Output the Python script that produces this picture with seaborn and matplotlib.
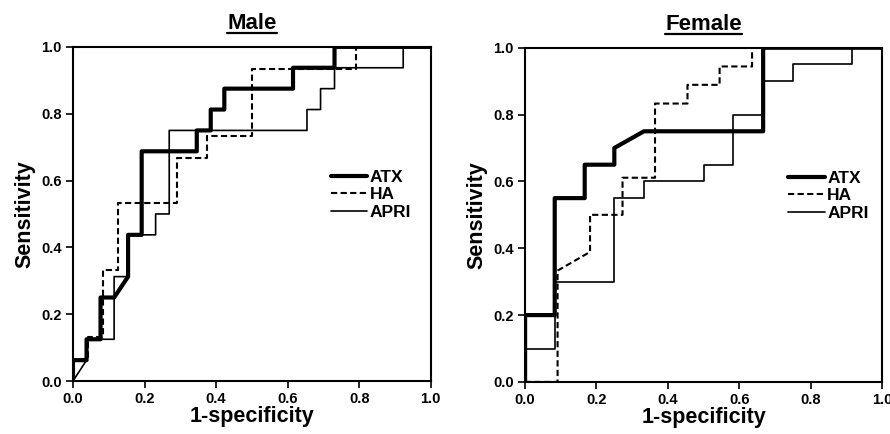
import matplotlib
matplotlib.use("Agg")
import matplotlib.pyplot as plt
from matplotlib.lines import Line2D
import pandas as pd
import seaborn as sns

# ROC curves: false-positive rate (1-specificity) and sensitivity
male_atx_fpr = [0, 0, 0.038, 0.038, 0.077, 0.077, 0.115, 0.154, 0.154, 0.192, 0.192, 0.346, 0.346,
                0.385, 0.385, 0.423, 0.423, 0.615, 0.615, 0.731, 0.731, 1.0]
male_atx_tpr = [0, 0.0625, 0.0625, 0.125, 0.125, 0.25, 0.25, 0.3125, 0.4375, 0.4375, 0.6875, 0.6875, 0.75,
                0.75, 0.8125, 0.8125, 0.875, 0.875, 0.9375, 0.9375, 1.0, 1.0]
male_ha_fpr = [0, 0, 0.042, 0.042, 0.083, 0.083, 0.125, 0.125, 0.292, 0.292, 0.375, 0.375, 0.5, 0.5,
               0.792, 0.792, 1.0]
male_ha_tpr = [0, 0.067, 0.067, 0.133, 0.133, 0.333, 0.333, 0.533, 0.533, 0.667, 0.667, 0.733, 0.733,
               0.933, 0.933, 1.0, 1.0]
male_apri_fpr = [0, 0.038, 0.038, 0.115, 0.115, 0.154, 0.154, 0.231, 0.231, 0.269, 0.269, 0.654, 0.654,
                 0.692, 0.692, 0.731, 0.731, 0.923, 0.923, 1.0]
male_apri_tpr = [0, 0.0625, 0.125, 0.125, 0.3125, 0.3125, 0.4375, 0.4375, 0.5, 0.5, 0.75, 0.75, 0.8125,
                 0.8125, 0.875, 0.875, 0.9375, 0.9375, 1.0, 1.0]

female_atx_fpr = [0, 0, 0.083, 0.083, 0.167, 0.167, 0.25, 0.25, 0.333, 0.667, 0.667, 1.0]
female_atx_tpr = [0, 0.2, 0.2, 0.55, 0.55, 0.65, 0.65, 0.7, 0.75, 0.75, 1.0, 1.0]
female_ha_fpr = [0, 0.091, 0.091, 0.182, 0.182, 0.273, 0.273, 0.364, 0.364, 0.455, 0.455, 0.545, 0.545,
                 0.636, 0.636, 1.0]
female_ha_tpr = [0, 0, 0.333, 0.389, 0.5, 0.5, 0.611, 0.611, 0.833, 0.833, 0.889, 0.889, 0.944,
                 0.944, 1.0, 1.0]
female_apri_fpr = [0, 0, 0.083, 0.083, 0.25, 0.25, 0.333, 0.333, 0.5, 0.5, 0.583, 0.583, 0.667, 0.667,
                   0.75, 0.75, 0.917, 0.917, 1.0]
female_apri_tpr = [0, 0.1, 0.1, 0.3, 0.3, 0.55, 0.55, 0.6, 0.6, 0.65, 0.65, 0.8, 0.8, 0.9, 0.9, 0.95,
                   0.95, 1.0, 1.0]

markers = ["ATX", "HA", "APRI"]
panels = ["Male", "Female"]
ticks = [0.0, 0.2, 0.4, 0.6, 0.8, 1.0]

curves = {
    ("Male", "ATX"): (male_atx_fpr, male_atx_tpr),
    ("Male", "HA"): (male_ha_fpr, male_ha_tpr),
    ("Male", "APRI"): (male_apri_fpr, male_apri_tpr),
    ("Female", "ATX"): (female_atx_fpr, female_atx_tpr),
    ("Female", "HA"): (female_ha_fpr, female_ha_tpr),
    ("Female", "APRI"): (female_apri_fpr, female_apri_tpr),
}

styles = {
    "ATX": dict(linewidth=3.0, linestyle="-"),
    "HA": dict(linewidth=1.5, linestyle=(0, (3, 1.6))),
    "APRI": dict(linewidth=1.2, linestyle="-"),
}

sns.set_style("ticks")
plt.rcParams["font.family"] = ["Liberation Sans", "DejaVu Sans"]
plt.rcParams.update({"text.color": "black", "axes.labelcolor": "black",
                     "xtick.color": "black", "ytick.color": "black", "axes.edgecolor": "black"})

fig = plt.figure(figsize=(8.9, 4.34), dpi=100)
ax_pos = {"Male": [0.082, 0.122, 0.402, 0.770], "Female": [0.590, 0.120, 0.401, 0.770]}
legend_x = {"Male": 0.72, "Female": 0.737}

titles = []
for panel in panels:
    ax = fig.add_axes(ax_pos[panel])
    for m in markers:
        fpr, tpr = curves[(panel, m)]
        df = pd.DataFrame({"fpr": fpr, "tpr": tpr})
        sns.lineplot(data=df, x="fpr", y="tpr", sort=False, estimator=None, color="black",
                     ax=ax, label=m, **styles[m])
    ax.set_xlim(0, 1)
    ax.set_ylim(0, 1)
    ax.set_xticks(ticks)
    ax.set_yticks(ticks)
    ax.set_xticklabels([f"{t:.1f}" for t in ticks], fontweight="bold", fontsize=10.5)
    ax.set_yticklabels([f"{t:.1f}" for t in ticks], fontweight="bold", fontsize=10.5)
    ax.tick_params(direction="out", length=5, width=1.2, pad=3)
    for s in ax.spines.values():
        s.set_linewidth(1.5)
        s.set_color("black")
    ax.set_xlabel("1-specificity", fontweight="bold", fontsize=15.5, labelpad=0)
    ax.set_ylabel("Sensitivity", fontweight="bold", fontsize=15.5, labelpad=4)
    t = ax.set_title(panel, fontweight="bold", fontsize=16, pad=13)
    titles.append(t)
    ax.legend(loc="center left", bbox_to_anchor=(legend_x[panel], 0.557), frameon=False,
              prop={"size": 12.5, "weight": "bold"}, handlelength=2.1, handletextpad=0.15,
              labelspacing=0.15, borderpad=0, borderaxespad=0)

# underline the panel titles
fig.canvas.draw()
renderer = fig.canvas.get_renderer()
inv = fig.transFigure.inverted()
for t in titles:
    bb = t.get_window_extent(renderer).transformed(inv)
    fig.add_artist(Line2D([bb.x0, bb.x1], [bb.y0 + 0.002, bb.y0 + 0.002], color="black",
                          linewidth=1.6, transform=fig.transFigure))

fig.savefig("out.png", dpi=100)
